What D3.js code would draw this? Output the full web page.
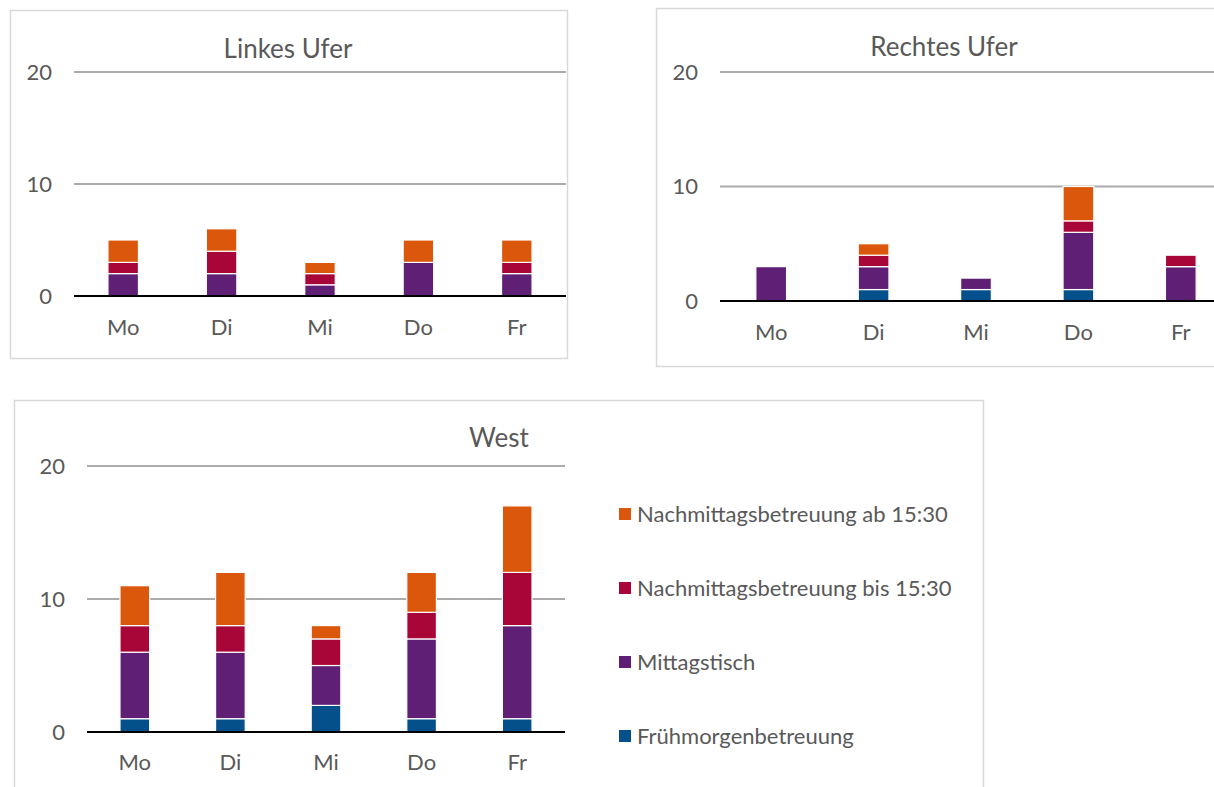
<!DOCTYPE html>
<html>
<head>
<meta charset="utf-8">
<script src="https://cdn.jsdelivr.net/npm/d3@7"></script>
<style>
  html, body { margin: 0; padding: 0; background: #fff; }
  svg { display: block; }
  text { font-family: Lato, "Open Sans", sans-serif; fill: #595959; }
</style>
</head>
<body>
<svg id="chart" width="1214" height="787"></svg>
<script>
// Weekdays shown on every panel
const days = ["Mo", "Di", "Mi", "Do", "Fr"];

// Series, bottom to top of each stack
const seriesNames = ["Frühmorgenbetreuung", "Mittagstisch", "Nachmittagsbetreuung bis 15:30", "Nachmittagsbetreuung ab 15:30"];
const seriesColors = ["#03508A", "#5E1F75", "#A80539", "#DA570B"];

// Children per day and offer, one array per series
const linksFrueh  = [0, 0, 0, 0, 0];
const linksMittag = [2, 2, 1, 3, 2];
const linksBis    = [1, 2, 1, 0, 1];
const linksAb     = [2, 2, 1, 2, 2];

const rechtsFrueh  = [0, 1, 1, 1, 0];
const rechtsMittag = [3, 2, 1, 5, 3];
const rechtsBis    = [0, 1, 0, 1, 1];
const rechtsAb     = [0, 1, 0, 3, 0];

const westFrueh  = [1, 1, 2, 1, 1];
const westMittag = [5, 5, 3, 6, 7];
const westBis    = [2, 2, 2, 2, 4];
const westAb     = [3, 4, 1, 3, 5];

const yTicks = [0, 10, 20];

const svg = d3.select("#chart");

function buildRows(frueh, mittag, bis, ab) {
  return days.map((d, i) => ({
    day: d,
    [seriesNames[0]]: frueh[i],
    [seriesNames[1]]: mittag[i],
    [seriesNames[2]]: bis[i],
    [seriesNames[3]]: ab[i]
  }));
}

function drawPanel(cfg) {
  const g = svg.append("g");

  // Panel frame
  g.append("rect")
    .attr("x", cfg.frame[0] + 0.5).attr("y", cfg.frame[1] + 0.5)
    .attr("width", cfg.frame[2]).attr("height", cfg.frame[3])
    .attr("fill", "#fff").attr("stroke", "#D9D9D9").attr("stroke-width", 1.5);

  const x = d3.scaleBand().domain(days)
    .range([cfg.plot.x0, cfg.plot.x1])
    .paddingInner(cfg.pad).paddingOuter(cfg.pad / 2);
  const y = d3.scaleLinear().domain([0, 20]).range([cfg.plot.y0, cfg.plot.y20]);

  // Gridlines
  g.selectAll(".grid").data(yTicks.filter(t => t > 0)).join("line")
    .attr("x1", cfg.plot.x0).attr("x2", cfg.plot.x1)
    .attr("y1", d => y(d)).attr("y2", d => y(d))
    .attr("stroke", "#ABABAB").attr("stroke-width", 2);

  // Y tick labels
  g.selectAll(".ytick").data(yTicks).join("text")
    .attr("x", cfg.plot.x0 - 22).attr("y", d => y(d))
    .attr("dy", "0.36em").attr("text-anchor", "end")
    .style("font-size", "22px")
    .text(d => d);

  // Stacked bars
  const rows = buildRows(...cfg.values);
  const stack = d3.stack().keys(seriesNames)(rows);
  g.selectAll(".layer").data(stack).join("g")
    .attr("fill", (d, i) => seriesColors[i])
    .selectAll("rect").data(d => d.filter(s => s[1] - s[0] > 0)).join("rect")
    .attr("x", d => x(d.data.day))
    .attr("width", x.bandwidth())
    .attr("y", d => y(d[1]))
    .attr("height", d => y(d[0]) - y(d[1]))
    .attr("stroke", "#fff").attr("stroke-width", 1.2);

  // Zero line
  g.append("line")
    .attr("x1", cfg.plot.x0).attr("x2", cfg.plot.x1)
    .attr("y1", y(0)).attr("y2", y(0))
    .attr("stroke", "#000").attr("stroke-width", 2);

  // Category labels
  g.selectAll(".xlab").data(days).join("text")
    .attr("x", d => x(d) + x.bandwidth() / 2)
    .attr("y", y(0) + cfg.labelGap)
    .attr("dy", "0.36em").attr("text-anchor", "middle")
    .style("font-size", "22px")
    .text(d => d);

  // Title
  g.append("text")
    .attr("x", cfg.titlePos[0]).attr("y", cfg.titlePos[1])
    .attr("dy", "0.36em").attr("text-anchor", "middle")
    .style("font-size", "26px")
    .text(cfg.title);

  return g;
}

drawPanel({
  title: "Linkes Ufer",
  frame: [10, 10, 557, 348],
  plot: { x0: 74, x1: 566, y0: 296, y20: 72 },
  pad: 0.69,
  labelGap: 31,
  titlePos: [288, 49],
  values: [linksFrueh, linksMittag, linksBis, linksAb]
});

drawPanel({
  title: "Rechtes Ufer",
  frame: [656, 8, 580, 358],
  plot: { x0: 720, x1: 1232, y0: 301, y20: 72 },
  pad: 0.70,
  labelGap: 31,
  titlePos: [944, 47],
  values: [rechtsFrueh, rechtsMittag, rechtsBis, rechtsAb]
});

drawPanel({
  title: "West",
  frame: [14, 400, 969, 400],
  plot: { x0: 87, x1: 565, y0: 732, y20: 466 },
  pad: 0.69,
  labelGap: 30,
  titlePos: [499, 438],
  values: [westFrueh, westMittag, westBis, westAb]
});

// Legend for the West panel, top entry is the top of the stack
const legendItems = seriesNames.map((n, i) => ({ name: n, color: seriesColors[i] })).reverse();
const legendY = d3.scalePoint().domain(legendItems.map(d => d.name)).range([514, 736]);
const legend = svg.append("g");
const item = legend.selectAll("g").data(legendItems).join("g")
  .attr("transform", d => `translate(619, ${legendY(d.name)})`);
item.append("rect")
  .attr("x", 0).attr("y", -6).attr("width", 12).attr("height", 12)
  .attr("fill", d => d.color);
item.append("text")
  .attr("x", 18).attr("y", 0).attr("dy", "0.36em")
  .style("font-size", "22px")
  .text(d => d.name);
</script>
</body>
</html>
